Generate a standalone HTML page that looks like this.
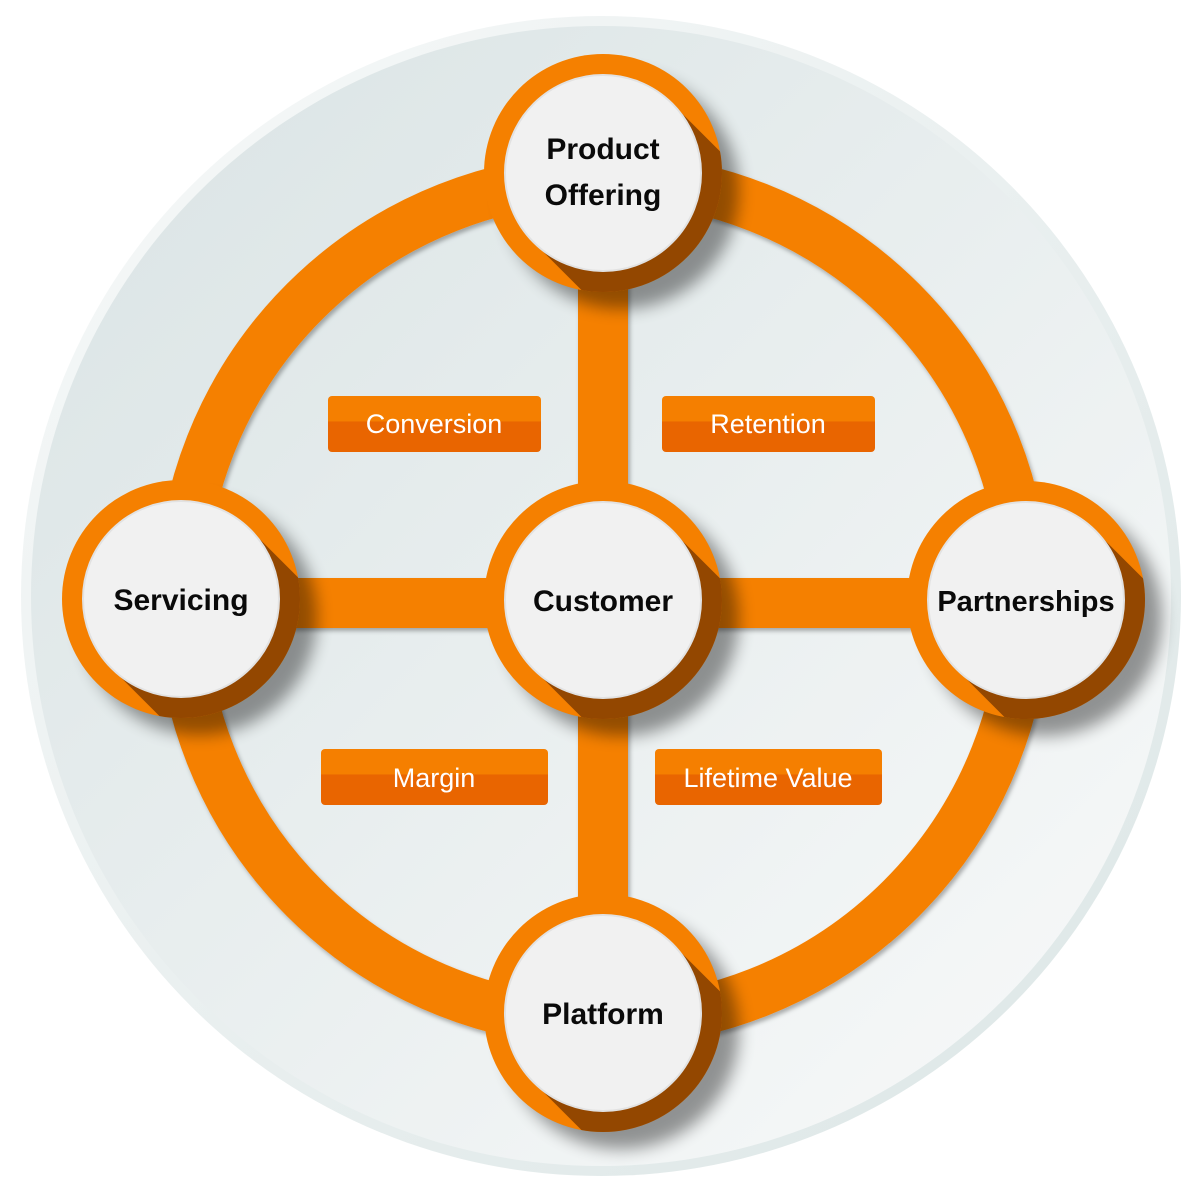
<!DOCTYPE html>
<html><head><meta charset="utf-8"><style>
html,body{margin:0;padding:0;background:#fff;}
svg{display:block;}
.n{font-family:"Liberation Sans",sans-serif;font-weight:bold;font-size:30px;fill:#0a0a0a;text-anchor:middle;}
.l{font-family:"Liberation Sans",sans-serif;font-size:27px;fill:#fff;text-anchor:middle;}
</style></head><body>
<svg width="1203" height="1193" viewBox="0 0 1203 1193" xmlns="http://www.w3.org/2000/svg">
<defs>
<linearGradient id="bgo" x1="0" y1="0" x2="1" y2="1"><stop offset="0" stop-color="#f7f9f9"/><stop offset="1" stop-color="#dce6e6"/></linearGradient>
<linearGradient id="bgi" x1="0" y1="0" x2="1" y2="1"><stop offset="0" stop-color="#d9e3e4"/><stop offset="1" stop-color="#f9fafa"/></linearGradient>
<linearGradient id="lb" x1="0" y1="0" x2="0" y2="1"><stop offset="0.45" stop-color="#f57f00"/><stop offset="0.46" stop-color="#e96500"/></linearGradient>
<filter id="blur" x="-30%" y="-30%" width="160%" height="160%"><feGaussianBlur stdDeviation="8"/></filter>
<filter id="rs" x="-10%" y="-10%" width="120%" height="120%"><feDropShadow dx="2" dy="3" stdDeviation="2" flood-color="#000" flood-opacity="0.3"/></filter>
</defs>
<circle cx="601" cy="596" r="580" fill="url(#bgo)"/>
<circle cx="601" cy="596" r="570" fill="url(#bgi)"/>
<g filter="url(#rs)">
<circle cx="603" cy="600" r="422" fill="none" stroke="#f58000" stroke-width="50"/>
<rect x="578" y="173" width="50" height="840" fill="#f58000"/>
<rect x="181" y="578" width="845" height="50" fill="#f58000"/>
</g>
<g>
<circle cx="621" cy="191" r="118" fill="#000" opacity="0.4" filter="url(#blur)"/>
<circle cx="199" cy="617" r="118" fill="#000" opacity="0.4" filter="url(#blur)"/>
<circle cx="621" cy="618" r="118" fill="#000" opacity="0.4" filter="url(#blur)"/>
<circle cx="1044" cy="618" r="118" fill="#000" opacity="0.4" filter="url(#blur)"/>
<circle cx="621" cy="1031" r="118" fill="#000" opacity="0.4" filter="url(#blur)"/>
</g>
<clipPath id="c1"><circle cx="603" cy="173" r="119"/></clipPath>
<clipPath id="c2"><circle cx="181" cy="599" r="119"/></clipPath>
<clipPath id="c3"><circle cx="603" cy="600" r="119"/></clipPath>
<clipPath id="c4"><circle cx="1026" cy="600" r="119"/></clipPath>
<clipPath id="c5"><circle cx="603" cy="1013" r="119"/></clipPath>

<g>
<circle cx="603" cy="173" r="119" fill="#f58000"/>
<g clip-path="url(#c1)"><line x1="603" y1="173" x2="663" y2="233" stroke="#6a3000" stroke-width="196" stroke-linecap="round" opacity="0.7"/></g>
<circle cx="603" cy="173" r="98" fill="#f1f1f1" stroke="#e2e2e2" stroke-width="2"/>
<text class="n" x="603" y="159">Product</text><text class="n" x="603" y="205">Offering</text>
</g>
<g>
<circle cx="181" cy="599" r="119" fill="#f58000"/>
<g clip-path="url(#c2)"><line x1="181" y1="599" x2="241" y2="659" stroke="#6a3000" stroke-width="196" stroke-linecap="round" opacity="0.7"/></g>
<circle cx="181" cy="599" r="98" fill="#f1f1f1" stroke="#e2e2e2" stroke-width="2"/>
<text class="n" x="181" y="610">Servicing</text>
</g>
<g>
<circle cx="603" cy="600" r="119" fill="#f58000"/>
<g clip-path="url(#c3)"><line x1="603" y1="600" x2="663" y2="660" stroke="#6a3000" stroke-width="196" stroke-linecap="round" opacity="0.7"/></g>
<circle cx="603" cy="600" r="98" fill="#f1f1f1" stroke="#e2e2e2" stroke-width="2"/>
<text class="n" x="603" y="611">Customer</text>
</g>
<g>
<circle cx="1026" cy="600" r="119" fill="#f58000"/>
<g clip-path="url(#c4)"><line x1="1026" y1="600" x2="1086" y2="660" stroke="#6a3000" stroke-width="196" stroke-linecap="round" opacity="0.7"/></g>
<circle cx="1026" cy="600" r="98" fill="#f1f1f1" stroke="#e2e2e2" stroke-width="2"/>
<text class="n" x="1026" y="611" style="font-size:29px">Partnerships</text>
</g>
<g>
<circle cx="603" cy="1013" r="119" fill="#f58000"/>
<g clip-path="url(#c5)"><line x1="603" y1="1013" x2="663" y2="1073" stroke="#6a3000" stroke-width="196" stroke-linecap="round" opacity="0.7"/></g>
<circle cx="603" cy="1013" r="98" fill="#f1f1f1" stroke="#e2e2e2" stroke-width="2"/>
<text class="n" x="603" y="1024">Platform</text>
</g>

<rect x="328" y="396" width="213" height="56" rx="4" fill="url(#lb)"/>
<text class="l" x="434" y="433">Conversion</text>
<rect x="662" y="396" width="213" height="56" rx="4" fill="url(#lb)"/>
<text class="l" x="768" y="433">Retention</text>
<rect x="321" y="749" width="227" height="56" rx="4" fill="url(#lb)"/>
<text class="l" x="434" y="787">Margin</text>
<rect x="655" y="749" width="227" height="56" rx="4" fill="url(#lb)"/>
<text class="l" x="768" y="787">Lifetime Value</text>
</svg>
</body></html>
